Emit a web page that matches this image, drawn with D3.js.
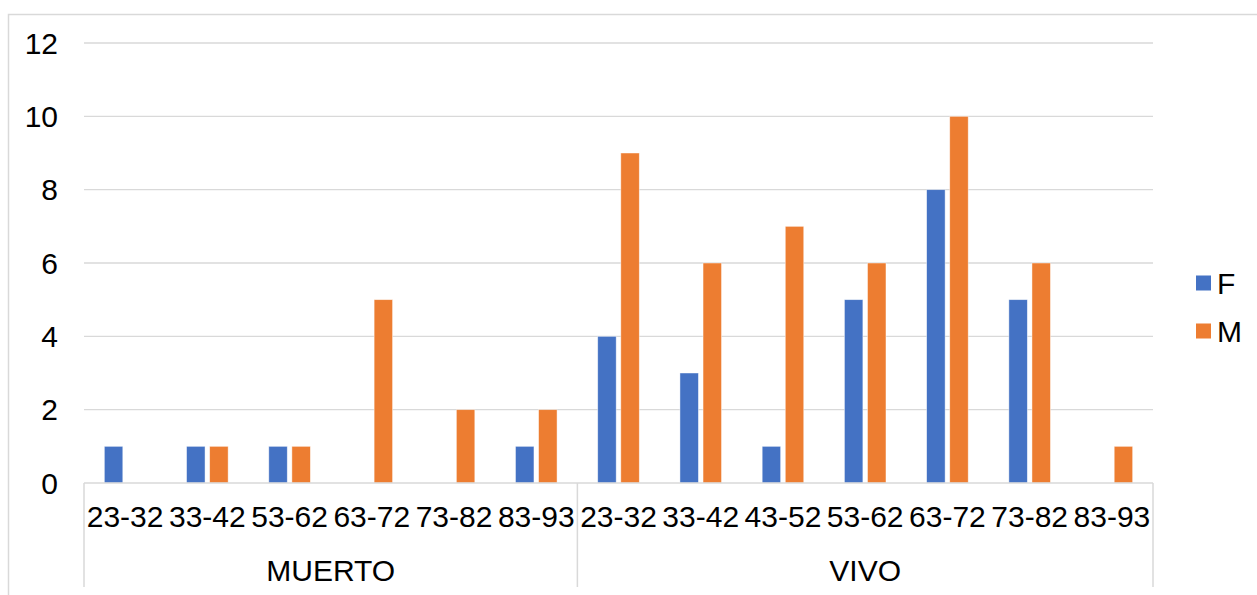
<!DOCTYPE html>
<html>
<head>
<meta charset="utf-8">
<script src="https://cdn.jsdelivr.net/npm/d3@7"></script>
<style>
  html, body { margin: 0; padding: 0; background: #fff; }
  svg { display: block; font-family: "Liberation Sans", Arial, sans-serif; }
</style>
</head>
<body>
<svg id="chart" width="1257" height="595"></svg>
<script>
// Group (outer level) and age-range (inner level) categories
const groups = ["MUERTO", "VIVO"];
const muertoRanges = ["23-32", "33-42", "53-62", "63-72", "73-82", "83-93"];
const vivoRanges = ["23-32", "33-42", "43-52", "53-62", "63-72", "73-82", "83-93"];

// Counts per series, in category order
const muertoF = [1, 1, 1, 0, 0, 1];
const muertoM = [0, 1, 1, 5, 2, 2];
const vivoF = [4, 3, 1, 5, 8, 5, 0];
const vivoM = [9, 6, 7, 6, 10, 6, 1];

const seriesNames = ["F", "M"];
const seriesColors = ["#4472C4", "#ED7D31"];
const yTicks = [0, 2, 4, 6, 8, 10, 12];

// Flattened rows used for drawing
const rows = [];
muertoRanges.forEach((r, i) => rows.push({ group: groups[0], range: r, F: muertoF[i], M: muertoM[i] }));
vivoRanges.forEach((r, i) => rows.push({ group: groups[1], range: r, F: vivoF[i], M: vivoM[i] }));
rows.forEach((d, i) => d.key = i);

const svg = d3.select("#chart");
const FONT = 30;
const plotLeft = 84, plotRight = 1153, plotTop = 43, plotBottom = 483;

// Outer chart frame
svg.append("path")
  .attr("d", `M8.5,595 V14.5 H1257`)
  .attr("fill", "none").attr("stroke", "#D9D9D9").attr("stroke-width", 1.5);

const x0 = d3.scaleBand().domain(rows.map(d => d.key)).range([plotLeft, plotRight]).padding(0);
const x1 = d3.scaleBand().domain(seriesNames).range([0, x0.bandwidth()])
  .paddingInner(0.2).paddingOuter(0.88);
const y = d3.scaleLinear().domain([0, 12]).range([plotBottom, plotTop]);
const color = d3.scaleOrdinal().domain(seriesNames).range(seriesColors);

// Horizontal gridlines
svg.append("g").selectAll("line").data(yTicks.filter(t => t > 0)).join("line")
  .attr("x1", plotLeft).attr("x2", plotRight)
  .attr("y1", d => y(d)).attr("y2", d => y(d))
  .attr("stroke", "#D9D9D9").attr("stroke-width", 1.3);

// Y axis labels
svg.append("g").selectAll("text").data(yTicks).join("text")
  .attr("x", 58).attr("y", d => y(d))
  .attr("text-anchor", "end").attr("dominant-baseline", "central")
  .attr("font-size", FONT).attr("fill", "#000")
  .text(d => d);

// Bars
const cat = svg.append("g").selectAll("g").data(rows).join("g")
  .attr("transform", d => `translate(${x0(d.key)},0)`);
cat.selectAll("rect")
  .data(d => seriesNames.map(s => ({ s, v: d[s] })).filter(e => e.v > 0))
  .join("rect")
  .attr("x", e => x1(e.s))
  .attr("width", x1.bandwidth())
  .attr("y", e => y(e.v))
  .attr("height", e => y(0) - y(e.v))
  .attr("fill", e => color(e.s))
  .attr("stroke", "#fff").attr("stroke-opacity", 0.6).attr("stroke-width", 0.75);

// Category axis: baseline and group separators
const axisBottom = 587;
svg.append("line")
  .attr("x1", plotLeft).attr("x2", plotRight).attr("y1", plotBottom).attr("y2", plotBottom)
  .attr("stroke", "#D9D9D9").attr("stroke-width", 1.5);
const sepX = [plotLeft, x0(muertoRanges.length), plotRight];
svg.append("g").selectAll("line").data(sepX).join("line")
  .attr("x1", d => d).attr("x2", d => d)
  .attr("y1", plotBottom).attr("y2", axisBottom)
  .attr("stroke", "#D9D9D9").attr("stroke-width", 1.5);

// Inner level labels
svg.append("g").selectAll("text").data(rows).join("text")
  .attr("x", d => x0(d.key) + x0.bandwidth() / 2).attr("y", 516)
  .attr("text-anchor", "middle").attr("dominant-baseline", "central")
  .attr("font-size", FONT).attr("fill", "#000")
  .text(d => d.range);

// Outer level labels
const groupSpans = [
  { name: groups[0], a: sepX[0], b: sepX[1] },
  { name: groups[1], a: sepX[1], b: sepX[2] }
];
svg.append("g").selectAll("text").data(groupSpans).join("text")
  .attr("x", d => (d.a + d.b) / 2).attr("y", 570)
  .attr("text-anchor", "middle").attr("dominant-baseline", "central")
  .attr("font-size", FONT).attr("fill", "#000")
  .text(d => d.name);

// Legend
const legend = svg.append("g").selectAll("g").data(seriesNames).join("g")
  .attr("transform", (d, i) => `translate(1196,${283 + i * 48})`);
legend.append("rect")
  .attr("x", 0).attr("y", -7.5).attr("width", 15).attr("height", 15)
  .attr("fill", d => color(d));
legend.append("text")
  .attr("x", 21).attr("y", 0).attr("dominant-baseline", "central")
  .attr("font-size", FONT).attr("fill", "#000")
  .text(d => d);
</script>
</body>
</html>
